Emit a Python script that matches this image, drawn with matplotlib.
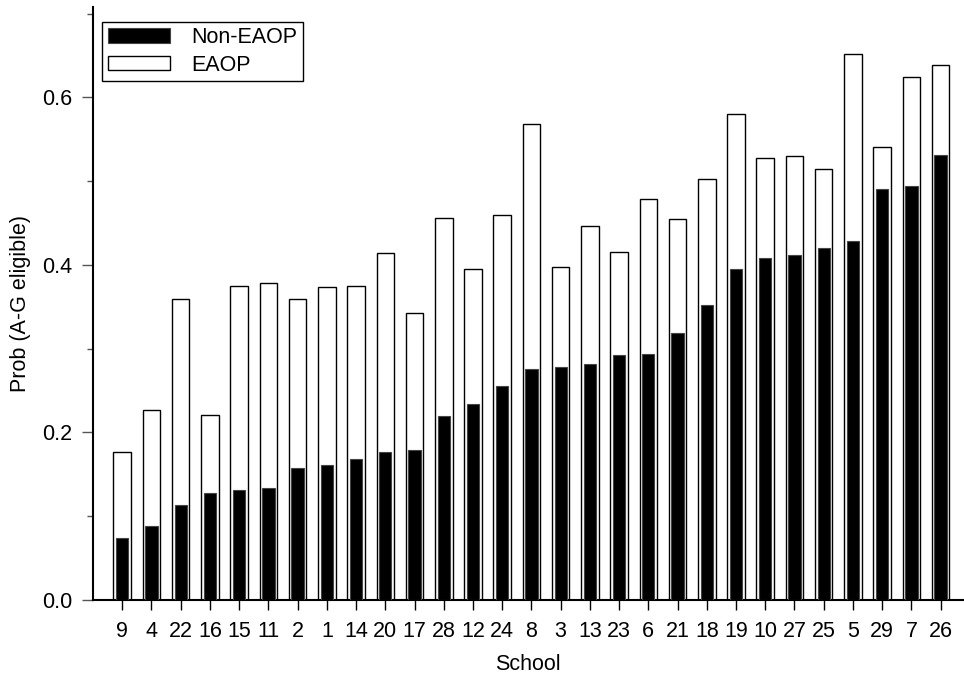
import numpy as np
import matplotlib
matplotlib.use('Agg')
import matplotlib.pyplot as plt
from matplotlib.ticker import MultipleLocator

schools = ['9', '4', '22', '16', '15', '11', '2', '1', '14', '20', '17', '28', '12', '24',
           '8', '3', '13', '23', '6', '21', '18', '19', '10', '27', '25', '5', '29', '7', '26']
non_eaop = [0.074, 0.088, 0.113, 0.127, 0.131, 0.133, 0.157, 0.161, 0.168, 0.176, 0.179,
            0.220, 0.234, 0.255, 0.276, 0.278, 0.282, 0.292, 0.293, 0.319, 0.352, 0.395,
            0.408, 0.412, 0.420, 0.428, 0.491, 0.494, 0.531]
eaop = [0.176, 0.227, 0.359, 0.221, 0.375, 0.378, 0.359, 0.373, 0.375, 0.414, 0.342,
        0.456, 0.395, 0.459, 0.568, 0.397, 0.446, 0.415, 0.479, 0.455, 0.502, 0.580,
        0.528, 0.530, 0.514, 0.652, 0.541, 0.624, 0.639]

plt.rcParams['font.family'] = ['Liberation Sans', 'DejaVu Sans']
plt.rcParams['font.size'] = 15.5

fig = plt.figure(figsize=(9.64, 6.81), dpi=100)
ax = fig.add_axes([0.0962, 0.1194, 0.9038, 0.8703])

x = np.arange(len(schools))
b_eaop = ax.bar(x, eaop, width=0.6, color='white', edgecolor='black', linewidth=1.0,
                label='EAOP', zorder=2)
b_non = ax.bar(x, non_eaop, width=0.42, color='black', edgecolor='#444444', linewidth=0.8,
               label='Non-EAOP', zorder=3)

ax.set_xlim(-1.01, 28.8)
ax.set_ylim(0, 0.708)
ax.set_xticks(x)
ax.set_xticklabels(schools)
ax.yaxis.set_major_locator(MultipleLocator(0.2))
ax.yaxis.set_minor_locator(MultipleLocator(0.1))
ax.yaxis.set_major_formatter(matplotlib.ticker.FormatStrFormatter('%.1f'))

for side in ['top', 'right']:
    ax.spines[side].set_visible(False)
for side in ['left', 'bottom']:
    ax.spines[side].set_linewidth(1.5)

ax.tick_params(axis='x', direction='out', length=7.2, width=1, pad=8.5)
ax.tick_params(axis='y', which='major', direction='out', length=8, width=1, pad=7, color='#555555')
ax.tick_params(axis='y', which='minor', direction='out', length=4, width=1, color='#555555')

ax.set_xlabel('School', labelpad=8)
ax.set_ylabel('Prob (A-G eligible)', labelpad=8)

leg = ax.legend(handles=[b_non, b_eaop], loc='upper left', bbox_to_anchor=(0.011, 0.975),
                fancybox=False, edgecolor='black', framealpha=1, borderaxespad=0,
                handlelength=2.9, handleheight=0.65, handletextpad=1.0, labelspacing=0.3,
                borderpad=0.25)
leg.get_frame().set_linewidth(1.0)

fig.savefig('out.png', dpi=100)
